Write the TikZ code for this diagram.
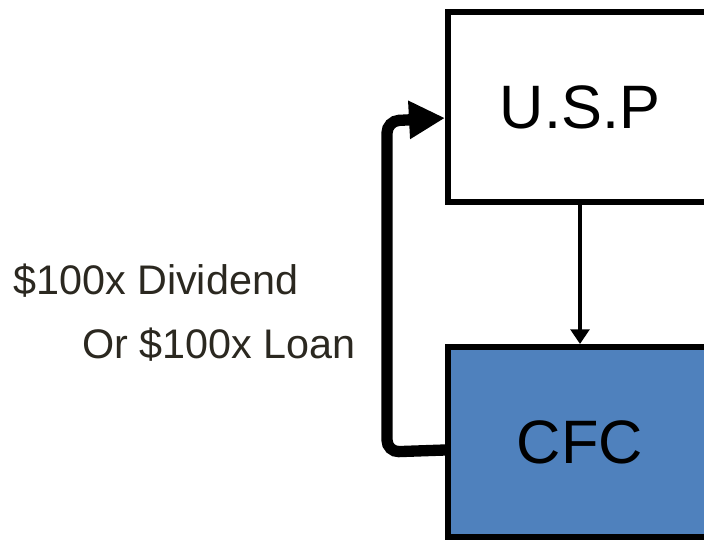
\documentclass[tikz,border=0pt]{standalone}
\usepackage{fontspec}
\setmainfont{Liberation Sans}
\usetikzlibrary{arrows.meta,calc}
\definecolor{cfcblue}{HTML}{4F81BD}
\definecolor{labelgray}{HTML}{2B2820}
\tikzset{
  entity/.style={draw=black, line width=4.5pt, minimum width=198pt, minimum height=142.5pt, inner sep=0pt, font=\fontsize{46}{50}\selectfont},
  flowlabel/.style={anchor=west, inner sep=0pt, text=labelgray, font=\fontsize{31}{36}\selectfont},
  thinarrow/.style={line width=3.2pt, -{Triangle[length=11pt,width=14pt]}},
  thickarrow/.style={line width=8.5pt, rounded corners=9pt, -{Triangle[length=27pt,width=27pt]}}
}
\begin{document}
\begin{tikzpicture}[x=0.75pt,y=-0.75pt]
\useasboundingbox (0,0) rectangle (704,540);
\clip (0,0) rectangle (704,540);
\node[entity, fill=white] (usp) at (580,107) {U.S.P};
\node[entity, fill=cfcblue] (cfc) at (580,442) {CFC};
\coordinate (b1) at (387,452);
\coordinate (b2) at (387,121);
\draw[thinarrow] (usp.south) -- (cfc.north);
\draw[thickarrow] ($(cfc.west)+(0,8)$) -- (b1) -- (b2) -- ($(usp.west)+(0,11)$);
\node[flowlabel] (l1) at (13,281) {\$100x Dividend};
\node[flowlabel] (l2) at (82,345) {Or \$100x Loan};
\end{tikzpicture}
\end{document}
